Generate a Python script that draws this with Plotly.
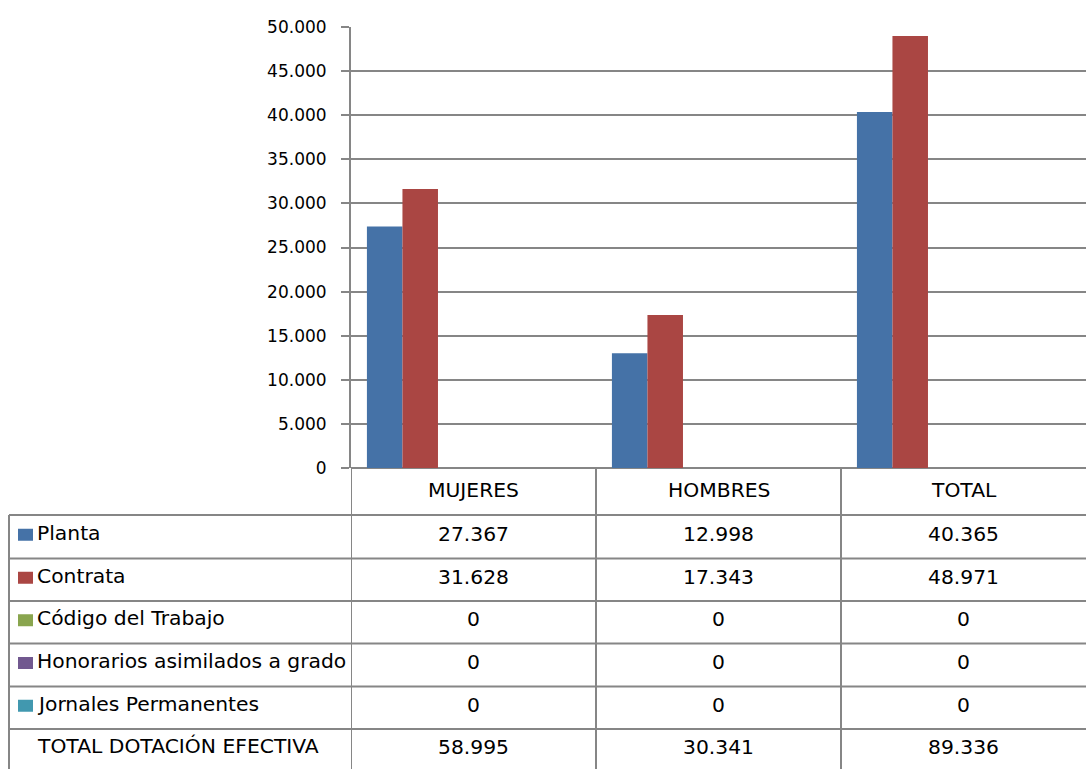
import plotly.graph_objects as go

# ---- data ----
categories = ["MUJERES", "HOMBRES", "TOTAL"]
series_names = [
    "Planta",
    "Contrata",
    "Código del Trabajo",
    "Honorarios asimilados a grado",
    "Jornales Permanentes",
]
planta = [27367, 12998, 40365]
contrata = [31628, 17343, 48971]
codigo_trabajo = [0, 0, 0]
honorarios = [0, 0, 0]
jornales = [0, 0, 0]
total_label = "TOTAL DOTACIÓN EFECTIVA"
y_ticks = [0, 5000, 10000, 15000, 20000, 25000, 30000, 35000, 40000, 45000, 50000]

series_values = [planta, contrata, codigo_trabajo, honorarios, jornales]
series_colors = ["#4572A7", "#AA4643", "#89A54E", "#71588F", "#4198AF"]
totals = [sum(col) for col in zip(*series_values)]

# ---- geometry (pixels) ----
W, H = 1086, 769
PLOT_L, PLOT_R, PLOT_T, PLOT_B = 351, 1086, 27, 468
TABLE_L = 9
row_lines = [515, 558.5, 601, 643.5, 686.5, 729]
GRID = "#868686"
FONT = "DejaVu Sans"
TABLE_SIZE = 20.3


def px_x(p):
    return (p - PLOT_L) / (PLOT_R - PLOT_L)


def px_y(p):
    return (PLOT_B - p) / (PLOT_B - PLOT_T)


fig = go.Figure()

bar_w = 0.145
first_off = -0.435
for i, (name, vals, col) in enumerate(zip(series_names, series_values, series_colors)):
    fig.add_trace(go.Bar(
        x=categories, y=vals, name=name,
        marker=dict(color=col, line=dict(width=0)),
        width=bar_w, offset=first_off + i * bar_w,
        showlegend=False,
    ))

shapes = []
annotations = []

# table grid lines
for ry in row_lines:
    shapes.append(dict(type="line", xref="paper", yref="paper",
                       x0=px_x(TABLE_L), x1=1, y0=px_y(ry), y1=px_y(ry),
                       line=dict(color=GRID, width=2)))
for cx in [-0.5, 0.5, 1.5]:
    shapes.append(dict(type="line", xref="x", yref="paper",
                       x0=cx, x1=cx, y0=px_y(H + 2), y1=0,
                       line=dict(color=GRID, width=2)))
shapes.append(dict(type="line", xref="paper", yref="paper",
                   x0=px_x(TABLE_L), x1=px_x(TABLE_L), y0=px_y(H + 2), y1=px_y(row_lines[0]),
                   line=dict(color=GRID, width=2)))

cell_font = dict(family=FONT, size=TABLE_SIZE, color="black")

# header row: category names
for ci, cat in enumerate(categories):
    annotations.append(dict(x=ci, y=px_y(490), xref="x", yref="paper", text=cat,
                            showarrow=False, xanchor="center", yanchor="middle",
                            font=cell_font))

# series rows: legend key, name and values
for r, (name, vals, col) in enumerate(zip(series_names, series_values, series_colors)):
    top, bot = row_lines[r], row_lines[r + 1]
    cy = (top + bot) / 2 - 4
    shapes.append(dict(type="rect", xref="paper", yref="paper",
                       x0=px_x(18), x1=px_x(33), y0=px_y(cy + 8), y1=px_y(cy - 4),
                       fillcolor=col, line=dict(width=0)))
    annotations.append(dict(x=px_x(35), y=px_y(cy), xref="paper", yref="paper", text=name,
                            showarrow=False, xanchor="left", yanchor="middle",
                            font=cell_font))
    for ci, v in enumerate(vals):
        annotations.append(dict(x=ci, y=px_y(cy + 1), xref="x", yref="paper",
                                text=f"{v:,}".replace(",", "."),
                                showarrow=False, xanchor="center", yanchor="middle",
                                font=cell_font))

# total row
cy_tot = row_lines[-1] + 17
annotations.append(dict(x=px_x(35), y=px_y(cy_tot), xref="paper", yref="paper", text=total_label,
                        showarrow=False, xanchor="left", yanchor="middle",
                        font=cell_font))
for ci, v in enumerate(totals):
    annotations.append(dict(x=ci, y=px_y(cy_tot + 1), xref="x", yref="paper",
                            text=f"{v:,}".replace(",", "."),
                            showarrow=False, xanchor="center", yanchor="middle",
                            font=cell_font))

fig.update_layout(
    width=W, height=H,
    margin=dict(l=PLOT_L, r=W - PLOT_R, t=PLOT_T, b=H - PLOT_B, pad=0),
    paper_bgcolor="white", plot_bgcolor="white",
    barmode="overlay",
    separators=",.",
    shapes=shapes,
    annotations=annotations,
    xaxis=dict(range=[-0.5, 2.5], showticklabels=False, showgrid=False,
               zeroline=False, showline=False, ticks="", fixedrange=True),
    yaxis=dict(range=[0, 50000], tickvals=y_ticks, tickformat=",d",
               showgrid=True, gridcolor=GRID, gridwidth=2,
               zeroline=True, zerolinecolor=GRID, zerolinewidth=2,
               showline=True, linecolor=GRID, linewidth=2,
               ticks="outside", ticklen=8, tickcolor=GRID, tickwidth=2,
               ticklabelstandoff=11,
               tickfont=dict(family=FONT, size=17, color="black")),
)

fig.write_html("out.html")
